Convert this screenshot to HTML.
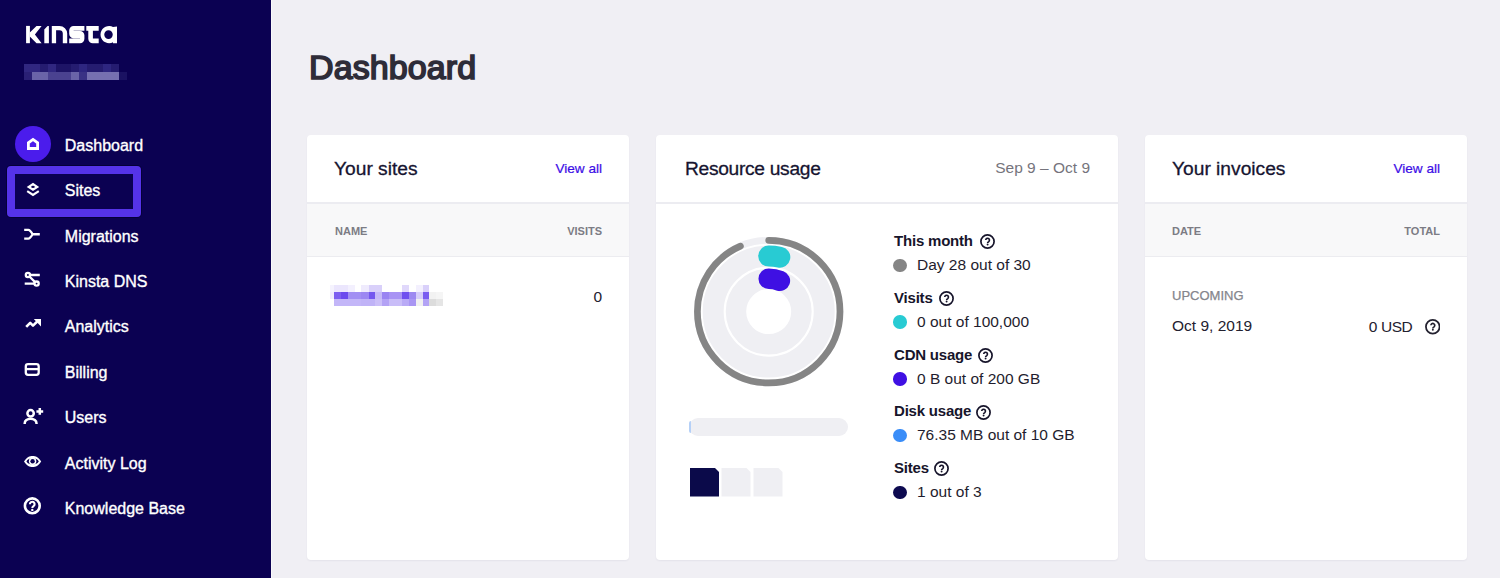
<!DOCTYPE html>
<html><head><meta charset="utf-8">
<style>
*{margin:0;padding:0;box-sizing:border-box}
html,body{width:1500px;height:578px;overflow:hidden;background:#f0eff4;font-family:"Liberation Sans",sans-serif}
.abs{position:absolute}
.blk i{position:absolute;display:block}
.q{position:absolute;width:15px;height:15px}
#side{position:absolute;left:0;top:0;width:271px;height:578px;background:#0b0152}
.nav{position:absolute;left:64.8px;color:#fff;font-size:16px;line-height:20px;-webkit-text-stroke:0.35px #fff;white-space:nowrap}
.ico{position:absolute;left:20px;width:26px;height:26px}
.card{position:absolute;top:135px;height:425px;background:#fff;border-radius:4px;box-shadow:0 1px 2px rgba(40,40,80,0.06)}
.ch{position:absolute;font-size:19.2px;line-height:24px;color:#161430;-webkit-text-stroke:0.3px #161430;white-space:nowrap}
.va{position:absolute;font-size:13.6px;line-height:16px;color:#3b0de6;-webkit-text-stroke:0.2px #3b0de6;white-space:nowrap}
.hline{position:absolute;left:0;right:0;top:67px;height:2px;background:#ececf1}
.band{position:absolute;left:0;right:0;top:69px;height:53px;background:#f8f8f9;border-bottom:1px solid #ececf0}
.th{position:absolute;font-size:11px;line-height:14px;font-weight:bold;color:#7c7c84;white-space:nowrap}
.txt{position:absolute;font-size:15.5px;line-height:18px;color:#23212f;white-space:nowrap}
.lb{position:absolute;left:238px;font-size:15px;letter-spacing:-0.2px;line-height:18px;font-weight:bold;color:#17152b;white-space:nowrap}
.lv{position:absolute;left:261px;font-size:15.5px;line-height:18px;color:#1f1d2e;white-space:nowrap}
.dot{position:absolute;left:237px;width:13.5px;height:13.5px;border-radius:50%}
</style></head><body>
<div class="abs" style="left:271px;top:0;width:1px;height:578px;background:#f9f9fb"></div>
<div id="side">
  <!-- logo -->
  <svg class="abs" style="left:0;top:0" width="140" height="60" viewBox="0 0 140 60">
    <g fill="#fff">
      <rect x="26.1" y="25.9" width="3.8" height="17.3"/>
      <path d="M29.8 32.4 L36.5 25.9 H41.6 L34.9 34.5 L41.6 43.2 H36.5 L29.8 36.4 Z"/>
      <path d="M44.3 29.6 L47.6 25.9 H48.9 V43.2 H44.3 Z"/>
      <path d="M51.8 43.2 V25.9 H59.5 A7.7 7.7 0 0 1 67.2 33.6 V43.2 H62.8 V33.6 A3.4 3.4 0 0 0 59.4 30.2 H56.1 V43.2 Z"/>
      <path d="M84.4 25.9 H73.6 A4.4 4.4 0 0 0 69.2 30.3 V33.8 A4.4 4.4 0 0 0 73.6 38.2 H80 V38.6 H69.2 V43.2 H80 A4.4 4.4 0 0 0 84.4 38.8 V35.3 A4.4 4.4 0 0 0 80 30.9 H73.6 V30.7 H84.4 Z"/>
      <path d="M86.3 25.9 H98.7 V30.7 H92.9 V38.6 H98.7 V43.2 H92.7 A4.4 4.4 0 0 1 88.3 38.8 V30.7 H86.3 Z"/>
      <path fill-rule="evenodd" d="M109.4 25.9 A8.65 8.65 0 1 0 113 42.3 V43.2 H117 V26.6 L113 27 A8.65 8.65 0 0 0 109.4 25.9 Z M108.5 30.2 A4.25 4.35 0 1 0 108.5 38.9 A4.25 4.35 0 1 0 108.5 30.2 Z"/>
    </g>
  </svg>
  <!-- blurred account name -->
  <div id="blur1" class="blk"><i style="left:23.8px;top:64.1px;width:8.1px;height:8.1px;background:#302780"></i><i style="left:31.8px;top:64.1px;width:8.1px;height:8.1px;background:#302780"></i><i style="left:39.9px;top:64.1px;width:8.0px;height:8.1px;background:#251c70"></i><i style="left:47.9px;top:64.1px;width:7.7px;height:8.1px;background:#302780"></i><i style="left:55.6px;top:64.1px;width:7.6px;height:8.1px;background:#1d1466"></i><i style="left:63.2px;top:64.1px;width:7.7px;height:8.1px;background:#1d1466"></i><i style="left:70.9px;top:64.1px;width:8.4px;height:8.1px;background:#251c70"></i><i style="left:79.3px;top:64.1px;width:7.7px;height:8.1px;background:#2e2680"></i><i style="left:87.0px;top:64.1px;width:7.7px;height:8.1px;background:#251c70"></i><i style="left:94.7px;top:64.1px;width:8.4px;height:8.1px;background:#251c70"></i><i style="left:103.1px;top:64.1px;width:7.7px;height:8.1px;background:#2e2680"></i><i style="left:110.8px;top:64.1px;width:8.0px;height:8.1px;background:#251c70"></i><i style="left:23.8px;top:72.2px;width:8.1px;height:8.0px;background:#2a2075"></i><i style="left:31.8px;top:72.2px;width:8.1px;height:8.0px;background:#6a64a8"></i><i style="left:39.9px;top:72.2px;width:8.0px;height:8.0px;background:#6a64a8"></i><i style="left:47.9px;top:72.2px;width:7.7px;height:8.0px;background:#4a4290"></i><i style="left:55.6px;top:72.2px;width:7.6px;height:8.0px;background:#4a4290"></i><i style="left:63.2px;top:72.2px;width:7.7px;height:8.0px;background:#4a4290"></i><i style="left:70.9px;top:72.2px;width:8.4px;height:8.0px;background:#6a64a8"></i><i style="left:79.3px;top:72.2px;width:7.7px;height:8.0px;background:#3a3285"></i><i style="left:87.0px;top:72.2px;width:7.7px;height:8.0px;background:#7670b0"></i><i style="left:94.7px;top:72.2px;width:8.4px;height:8.0px;background:#7670b0"></i><i style="left:103.1px;top:72.2px;width:7.7px;height:8.0px;background:#7670b0"></i><i style="left:110.8px;top:72.2px;width:8.0px;height:8.0px;background:#7670b0"></i><i style="left:118.8px;top:72.2px;width:8.1px;height:8.0px;background:#1a1262"></i></div>

  <!-- active circle -->
  <div class="abs" style="left:14.5px;top:125.8px;width:36.5px;height:36.5px;border-radius:50%;background:#4b1cec"></div>
  <svg class="ico" style="top:131px" viewBox="0 0 26 26"><path d="M8.4 17.5 V11.8 L13 8.4 L17.6 11.8 V17.5 Z" fill="none" stroke="#fff" stroke-width="2.8" stroke-linejoin="miter"/></svg>
  <div class="nav" style="top:135.8px">Dashboard</div>

  <!-- sites highlight -->
  <div class="abs" style="left:7px;top:166px;width:134px;height:51px;border:8px solid #5533e8;border-radius:4px;box-shadow:0 0 0 1px rgba(2,0,40,0.6)"></div>
  <svg class="ico" style="top:176px" viewBox="0 0 26 26"><path fill="#fff" fill-rule="evenodd" d="M13 6.7 L19.2 10.9 L13 15.1 L6.7 10.9 Z M13 9.8 A1.8 1.1 0 1 0 13 12 A1.8 1.1 0 1 0 13 9.8 Z"/><path d="M7.2 15.2 L13 19 L18.8 15.2" fill="none" stroke="#fff" stroke-width="2.2"/></svg>
  <div class="nav" style="top:181.3px">Sites</div>

  <svg class="ico" style="top:222px" viewBox="0 0 26 26"><path d="M4.2 7.9 H8.3 C9.9 7.9 10.9 9.4 12.6 12.25 C10.9 15.1 9.9 16.6 8.3 16.6 H4.2 M12.4 12.25 H19.8" fill="none" stroke="#fff" stroke-width="2.4"/></svg>
  <div class="nav" style="top:226.8px">Migrations</div>

  <svg class="ico" style="top:267px" viewBox="0 0 26 26"><g fill="none" stroke="#fff" stroke-width="2.3"><circle cx="7.9" cy="8" r="2.1"/><circle cx="16.6" cy="16.6" r="2.1"/><path d="M10 8 H19.8 M9.4 9.5 L15.1 15.1 M4.7 16.6 H14.5"/></g></svg>
  <div class="nav" style="top:272.3px">Kinsta DNS</div>

  <svg class="ico" style="top:312px" viewBox="0 0 26 26"><path d="M6.2 14.9 L10.2 10.9 L13 13.6 L18 8.8" fill="none" stroke="#fff" stroke-width="2.6" stroke-linejoin="round"/><path d="M13.8 7.1 H21 V14.6 Z" fill="#fff"/></svg>
  <div class="nav" style="top:317.3px">Analytics</div>

  <svg class="ico" style="top:357px" viewBox="0 0 26 26"><rect x="5.8" y="7.2" width="12.9" height="10.6" rx="2.2" fill="none" stroke="#fff" stroke-width="2.3"/><path d="M5.7 12.1 H18.8" stroke="#fff" stroke-width="2.3"/></svg>
  <div class="nav" style="top:362.8px">Billing</div>

  <svg class="ico" style="top:402px" viewBox="0 0 26 26"><g fill="none" stroke="#fff" stroke-width="2.5"><circle cx="10.6" cy="11.3" r="3.2"/><path d="M4.7 22 V21.2 A5.9 4.4 0 0 1 16.5 21.2 V22"/><path d="M16.4 9.4 H23.2 M19.8 6 V12.8"/></g></svg>
  <div class="nav" style="top:408.3px">Users</div>

  <svg class="ico" style="top:448px" viewBox="0 0 26 26"><path d="M4 13.4 C7 9 9.5 7.9 12.6 7.9 C15.7 7.9 18.2 9 21.2 13.4 C18.2 17.8 15.7 18.9 12.6 18.9 C9.5 18.9 7 17.8 4 13.4 Z" fill="#fff"/><ellipse cx="12.6" cy="13.3" rx="5.9" ry="3" fill="#0b0152"/><circle cx="12.6" cy="13.3" r="3.7" fill="#fff"/><circle cx="12.6" cy="13.3" r="2.2" fill="#0b0152"/></svg>
  <div class="nav" style="top:453.8px">Activity Log</div>

  <svg class="ico" style="top:493px" viewBox="0 0 26 26"><circle cx="12.3" cy="12.8" r="7.4" fill="none" stroke="#fff" stroke-width="2.6"/><path d="M9.9 11.2 A2.35 2.35 0 1 1 13.5 13.1 C12.6 13.7 12.3 14.1 12.3 15" fill="none" stroke="#fff" stroke-width="2.1"/><circle cx="12.3" cy="16.9" r="1.2" fill="#fff"/></svg>
  <div class="nav" style="top:498.8px">Knowledge Base</div>
</div>

<div class="abs" style="left:309px;top:45px;font-size:34px;letter-spacing:0.1px;line-height:44px;-webkit-text-stroke:1.7px #2e2c38;color:#2e2c38;white-space:nowrap">Dashboard</div>

<!-- card 1 -->
<div class="card" style="left:307px;width:322px">
  <div class="ch" style="left:27px;top:22px">Your sites</div>
  <div class="va" style="right:27px;top:26px">View all</div>
  <div class="hline"></div>
  <div class="band"></div>
  <div class="th" style="left:28px;top:89px">NAME</div>
  <div class="th" style="right:27px;top:89px">VISITS</div>
  <div id="blur2" class="blk"><i style="left:22.8px;top:150.4px;width:4.3px;height:6.5px;background:#f5f3fe"></i><i style="left:27.1px;top:150.4px;width:6.9px;height:6.5px;background:#ebe6fd"></i><i style="left:34.0px;top:150.4px;width:7.0px;height:6.5px;background:#ebe6fd"></i><i style="left:41.0px;top:150.4px;width:6.5px;height:6.5px;background:#f3f0fe"></i><i style="left:54.4px;top:150.4px;width:7.4px;height:6.5px;background:#efebfd"></i><i style="left:61.8px;top:150.4px;width:6.5px;height:6.5px;background:#d9d0fa"></i><i style="left:68.3px;top:150.4px;width:6.5px;height:6.5px;background:#d9d0fa"></i><i style="left:95.1px;top:150.4px;width:6.5px;height:6.5px;background:#e0d8fb"></i><i style="left:109.0px;top:150.4px;width:6.5px;height:6.5px;background:#f3f0fe"></i><i style="left:115.5px;top:150.4px;width:6.5px;height:6.5px;background:#d9d0fa"></i><i style="left:22.8px;top:156.9px;width:4.3px;height:6.9px;background:#f0edfd"></i><i style="left:27.1px;top:156.9px;width:6.9px;height:6.9px;background:#7c5ff0"></i><i style="left:34.0px;top:156.9px;width:7.0px;height:6.9px;background:#6b4aee"></i><i style="left:41.0px;top:156.9px;width:6.5px;height:6.9px;background:#a28ff3"></i><i style="left:47.5px;top:156.9px;width:6.9px;height:6.9px;background:#a28ff3"></i><i style="left:54.4px;top:156.9px;width:7.4px;height:6.9px;background:#9c87f2"></i><i style="left:61.8px;top:156.9px;width:6.5px;height:6.9px;background:#7457ef"></i><i style="left:68.3px;top:156.9px;width:6.5px;height:6.9px;background:#c6b9f8"></i><i style="left:74.8px;top:156.9px;width:7.3px;height:6.9px;background:#9a84f2"></i><i style="left:82.1px;top:156.9px;width:6.5px;height:6.9px;background:#a893f4"></i><i style="left:88.6px;top:156.9px;width:6.5px;height:6.9px;background:#a893f4"></i><i style="left:95.1px;top:156.9px;width:6.5px;height:6.9px;background:#7050ef"></i><i style="left:101.6px;top:156.9px;width:7.4px;height:6.9px;background:#9d89f1"></i><i style="left:109.0px;top:156.9px;width:6.5px;height:6.9px;background:#d6cdf9"></i><i style="left:115.5px;top:156.9px;width:6.5px;height:6.9px;background:#7a5df0"></i><i style="left:122.0px;top:156.9px;width:6.9px;height:6.9px;background:#f2f2f2"></i><i style="left:128.9px;top:156.9px;width:7.4px;height:6.9px;background:#f5f5f5"></i><i style="left:27.1px;top:163.8px;width:6.9px;height:7.0px;background:#c3b6f8"></i><i style="left:34.0px;top:163.8px;width:7.0px;height:7.0px;background:#c3b6f8"></i><i style="left:41.0px;top:163.8px;width:6.5px;height:7.0px;background:#c3b6f8"></i><i style="left:47.5px;top:163.8px;width:6.9px;height:7.0px;background:#c3b6f8"></i><i style="left:54.4px;top:163.8px;width:7.4px;height:7.0px;background:#c0b3f7"></i><i style="left:61.8px;top:163.8px;width:6.5px;height:7.0px;background:#c0b3f7"></i><i style="left:68.3px;top:163.8px;width:6.5px;height:7.0px;background:#cbbff8"></i><i style="left:74.8px;top:163.8px;width:7.3px;height:7.0px;background:#b3a2f5"></i><i style="left:82.1px;top:163.8px;width:6.5px;height:7.0px;background:#c9bdf8"></i><i style="left:88.6px;top:163.8px;width:6.5px;height:7.0px;background:#c9bdf8"></i><i style="left:95.1px;top:163.8px;width:6.5px;height:7.0px;background:#b9aaf6"></i><i style="left:101.6px;top:163.8px;width:7.4px;height:7.0px;background:#a996f3"></i><i style="left:109.0px;top:163.8px;width:6.5px;height:7.0px;background:#f0f0f0"></i><i style="left:115.5px;top:163.8px;width:6.5px;height:7.0px;background:#b3a3f5"></i><i style="left:122.0px;top:163.8px;width:6.9px;height:7.0px;background:#dcdcdc"></i><i style="left:128.9px;top:163.8px;width:7.4px;height:7.0px;background:#e5e5e5"></i></div>
  <div class="txt" style="right:27px;top:153px">0</div>
</div>

<!-- card 2 -->
<div class="card" style="left:656px;width:462px">
  <div class="ch" style="left:29px;top:22px;letter-spacing:-0.3px">Resource usage</div>
  <div class="abs" style="right:28px;top:24px;font-size:15.5px;line-height:18px;color:#75747c;white-space:nowrap">Sep 9 – Oct 9</div>
  <div class="hline"></div>
  <svg class="abs" style="left:0;top:0" width="462" height="425" viewBox="0 0 462 425">
    <g transform="translate(112.7,176.6)">
      <circle r="71.3" fill="none" stroke="#efeff3" stroke-width="6.7"/>
      <circle r="44.25" fill="none" stroke="#efeff3" stroke-width="43.5"/>
      <circle r="44" fill="none" stroke="#fff" stroke-width="2.1"/>
      <circle r="71.3" fill="none" stroke="#858585" stroke-width="6.7" stroke-linecap="round" stroke-dasharray="418.2 1000" transform="rotate(-90)"/>
      <circle r="55.5" fill="none" stroke="#28cbd3" stroke-width="21" stroke-linecap="round" stroke-dasharray="11.2 1000" transform="rotate(-90)"/>
      <circle r="32.75" fill="none" stroke="#3f10e3" stroke-width="20.5" stroke-linecap="round" stroke-dasharray="11.4 1000" transform="rotate(-90)"/>
    </g>
  </svg>
  <div class="lb" style="top:97.00px">This month</div>
  <div class="dot" style="top:123.50px;background:#858585"></div>
  <div class="lv" style="top:121.00px">Day 28 out of 30</div>
  <svg class="q" style="left:323.9px;top:99px" viewBox="0 0 15 15"><circle cx="7.5" cy="7.5" r="6.6" fill="none" stroke="#17152b" stroke-width="1.7"/><path d="M5.75 6.1 A1.85 1.85 0 1 1 8.75 7.6 C8 8.1 7.6 8.4 7.6 9.1" fill="none" stroke="#17152b" stroke-width="1.65"/><circle cx="7.6" cy="10.5" r="0.95" fill="#17152b"/></svg>
  <div class="lb" style="top:153.75px">Visits</div>
  <div class="dot" style="top:180.25px;background:#28cbd3"></div>
  <div class="lv" style="top:177.75px">0 out of 100,000</div>
  <svg class="q" style="left:283.4px;top:156.2px" viewBox="0 0 15 15"><circle cx="7.5" cy="7.5" r="6.6" fill="none" stroke="#17152b" stroke-width="1.7"/><path d="M5.75 6.1 A1.85 1.85 0 1 1 8.75 7.6 C8 8.1 7.6 8.4 7.6 9.1" fill="none" stroke="#17152b" stroke-width="1.65"/><circle cx="7.6" cy="10.5" r="0.95" fill="#17152b"/></svg>
  <div class="lb" style="top:210.50px">CDN usage</div>
  <div class="dot" style="top:237.00px;background:#3f10e3"></div>
  <div class="lv" style="top:234.50px">0 B out of 200 GB</div>
  <svg class="q" style="left:321.8px;top:212.9px" viewBox="0 0 15 15"><circle cx="7.5" cy="7.5" r="6.6" fill="none" stroke="#17152b" stroke-width="1.7"/><path d="M5.75 6.1 A1.85 1.85 0 1 1 8.75 7.6 C8 8.1 7.6 8.4 7.6 9.1" fill="none" stroke="#17152b" stroke-width="1.65"/><circle cx="7.6" cy="10.5" r="0.95" fill="#17152b"/></svg>
  <div class="lb" style="top:267.25px">Disk usage</div>
  <div class="dot" style="top:293.75px;background:#3a8df8"></div>
  <div class="lv" style="top:291.25px">76.35 MB out of 10 GB</div>
  <svg class="q" style="left:320.4px;top:269.7px" viewBox="0 0 15 15"><circle cx="7.5" cy="7.5" r="6.6" fill="none" stroke="#17152b" stroke-width="1.7"/><path d="M5.75 6.1 A1.85 1.85 0 1 1 8.75 7.6 C8 8.1 7.6 8.4 7.6 9.1" fill="none" stroke="#17152b" stroke-width="1.65"/><circle cx="7.6" cy="10.5" r="0.95" fill="#17152b"/></svg>
  <div class="lb" style="top:324.00px">Sites</div>
  <div class="dot" style="top:350.50px;background:#0d0a50"></div>
  <div class="lv" style="top:348.00px">1 out of 3</div>
  <svg class="q" style="left:278.4px;top:325.8px" viewBox="0 0 15 15"><circle cx="7.5" cy="7.5" r="6.6" fill="none" stroke="#17152b" stroke-width="1.7"/><path d="M5.75 6.1 A1.85 1.85 0 1 1 8.75 7.6 C8 8.1 7.6 8.4 7.6 9.1" fill="none" stroke="#17152b" stroke-width="1.65"/><circle cx="7.6" cy="10.5" r="0.95" fill="#17152b"/></svg>
  <div class="abs" style="left:33px;top:283px;width:159px;height:18px;border-radius:9px;background:#efeff3"></div>
  <div class="abs" style="left:33px;top:286px;width:2px;height:12px;border-radius:2px 0 0 2px;background:#b5d0f7"></div>
  <svg class="abs" style="left:33.5px;top:333px" width="95" height="29" viewBox="0 0 95 29"><path d="M0 0 H25 L29 4 V28.5 H0 Z" fill="#0b0a4a"/><path d="M31.5 0 H56.5 L60.5 4 V28.5 H31.5 Z" fill="#efeff3"/><path d="M63.5 0 H88.5 L92.5 4 V28.5 H63.5 Z" fill="#efeff3"/></svg>
</div>

<!-- card 3 -->
<div class="card" style="left:1145px;width:322px">
  <div class="ch" style="left:27px;top:22px">Your invoices</div>
  <div class="va" style="right:27px;top:26px">View all</div>
  <div class="hline"></div>
  <div class="band"></div>
  <div class="th" style="left:27px;top:89px">DATE</div>
  <div class="th" style="right:27px;top:89px">TOTAL</div>
  <div class="abs" style="left:27px;top:153px;font-size:13px;line-height:16px;color:#85858c;-webkit-text-stroke:0.25px #85858c;white-space:nowrap">UPCOMING</div>
  <div class="txt" style="left:27px;top:182px">Oct 9, 2019</div>
  <div class="txt" style="right:54.6px;top:182.5px;letter-spacing:-0.4px">0 USD</div>
  <svg class="q" style="left:279.5px;top:184.3px;width:15.5px;height:15.5px" viewBox="0 0 15 15"><circle cx="7.5" cy="7.5" r="6.6" fill="none" stroke="#23212f" stroke-width="1.7"/><path d="M5.75 6.1 A1.85 1.85 0 1 1 8.75 7.6 C8 8.1 7.6 8.4 7.6 9.1" fill="none" stroke="#23212f" stroke-width="1.65"/><circle cx="7.6" cy="10.5" r="0.95" fill="#23212f"/></svg>
</div>
</body></html>
